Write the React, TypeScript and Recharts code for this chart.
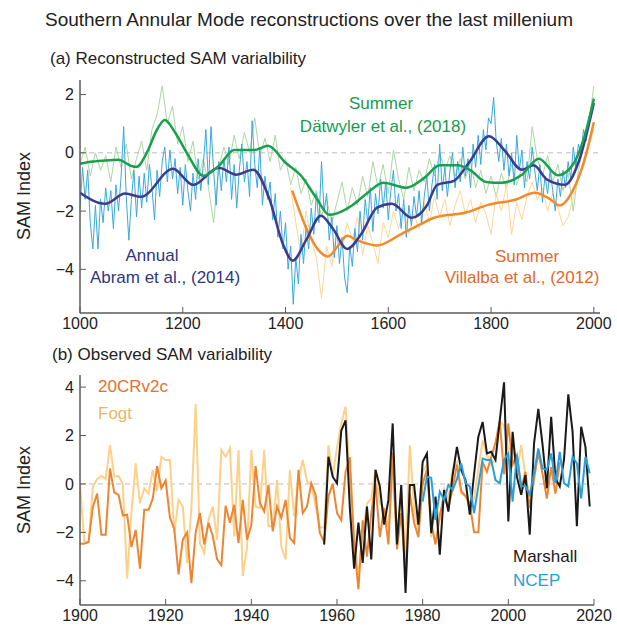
import { LineChart, Line, XAxis, YAxis, ReferenceLine } from 'recharts';

// ---- panel (a): reconstructions, 1000-2000 ----
const ABRAM_ANNUAL_START = 1000;
const ABRAM_ANNUAL_STEP = 5;
const abramAnnual = [
  -1.9, -0.5, -1.6, -0.6, -2.4, -3.3, -1.8, -3.3, -1.6, -2.4,
  -1.2, -2.0, -1.3, -2.6, -1.1, -2.0, -0.8, 0.9, -1.5, -3.0,
  -1.6, -0.6, -2.2, -0.8, -1.9, -0.7, -1.7, -0.4, -1.2, -2.3,
  -0.6, -1.5, -0.3, 0.2, -1.0, 0.1, -0.9, -0.2, -1.4, -0.5,
  -1.8, -0.4, -1.3, -2.0, -0.7, -1.6, -0.2, -1.3, -0.4, 0.8,
  -1.1, 0.9, -0.6, -1.8, -0.3, -1.3, -0.2, -1.0, 0.2, -1.6,
  -0.4, -1.9, -0.6, 0.3, -1.0, -0.3, -1.5, 1.1, -0.4, -1.2,
  0.2, -1.8, -0.8, -1.6, -1.0, -2.3, -1.4, -2.9, -2.0, -3.3,
  -2.4, -4.0, -3.2, -5.2, -3.6, -4.5, -2.8, -3.8, -2.5, -3.3,
  -1.9, -2.8, -1.4, -2.4, -0.3, -2.0, -1.4, -3.0, -2.2, -3.6,
  -2.5, -3.8, -2.9, -4.3, -4.8, -3.2, -3.9, -2.6, -3.4, -2.0,
  -3.0, -1.6, -2.4, -1.2, -2.7, -1.4, -2.1, -0.9, -1.9, -1.0,
  -2.3, -1.3, -0.6, -2.0, -1.4, -2.6, -1.6, -2.9, -1.8, -2.5,
  -1.5, -2.2, -1.3, -2.4, -1.5, -0.8, -2.0, -1.1, -0.4, -1.6,
  0.3, -1.3, -0.5, -1.5, -0.6, 0.0, -1.2, -0.3, -1.0, 0.2,
  -0.8, -0.2, -1.2, 0.3, -0.5, 0.6, -0.4, 0.8, 0.1, 1.2,
  1.0, 1.9, 0.4, -0.3, 0.5, -0.6, 0.3, -0.8, 0.0, -1.1,
  0.6, -0.6, 0.1, -1.2, -0.3, -0.9, 0.2, -0.6, -1.3, -0.4,
  -1.7, -0.8, -1.4, -0.6, -1.3, -2.0, -0.9, -1.5, -0.6, -1.2,
  -0.3, -0.9, 0.2, -0.5, 0.3, 0.0, 0.8, 0.4, 1.2, 1.5,
  1.9,
];

const DATWYLER_ANNUAL_START = 1000;
const DATWYLER_ANNUAL_STEP = 10;
const datwylerAnnual = [
  -0.4, 0.2, -0.8, 0.0, -0.6, -0.1, -1.0, 0.2, -0.5, 0.3,
  -0.9, -0.2, 0.4, -0.6, 0.8, 1.3, 2.3, 1.0, 1.6, 0.3,
  0.9, -0.3, 0.4, -0.9, -0.2, -1.2, -2.4, -0.5, 0.2, -0.4,
  0.6, -0.2, 0.7, 0.0, 1.2, -0.1, 0.5, -0.3, 0.6, -0.6,
  -0.2, -1.1, -0.5, -1.4, -0.9, -1.8, -1.3, -2.2, -1.6, -2.4,
  -1.7, -1.0, -2.0, -1.2, -1.8, -0.8, -1.5, -0.3, -1.2, -0.4,
  -1.4, 0.1, -0.9, -1.6, -0.5, -1.3, -0.6, -1.0, -0.2, -0.8,
  0.0, -0.6, -0.1, -0.8, -0.2, -0.9, -0.3, -1.2, -0.6, -1.4,
  -0.8, -1.5, -0.7, -1.2, -0.4, -1.1, -0.5, -1.0, 0.9, -0.2,
  -0.8, -0.1, -1.0, -0.4, -1.3, -0.7, -2.0, -0.6, 0.2, 1.0,
  2.3,
];

const VILLALBA_ANNUAL_START = 1410;
const VILLALBA_ANNUAL_STEP = 10;
const villalbaAnnual = [
  -1.2, -2.4, -3.5, -2.0, -3.0, -3.6, -5.0, -3.2, -3.9, -2.6,
  -3.3, -2.4, -3.0, -2.2, -3.5, -2.5, -3.1, -3.8, -2.4, -2.9,
  -2.0, -2.6, -1.9, -2.8, -2.1, -2.6, -1.7, -2.4, -1.5, -2.2,
  -1.6, -2.5, -1.8, -1.3, -2.1, -1.6, -2.4, -1.7, -2.1, -2.8,
  -1.4, -2.0, -1.1, -2.8, -1.7, -2.3, -1.5, -1.0, -1.6, -1.2,
  -2.0, -1.4, -1.9, -2.5, -2.2, -1.5, -0.9, -0.5, 0.2, 0.8,
];

// smoothed curves
const datwylerSmoothYears = [1000, 1025, 1050, 1075, 1100, 1110, 1130, 1150, 1165, 1185, 1210, 1240, 1270, 1300, 1340, 1366, 1400, 1430, 1460, 1485, 1500, 1530, 1560, 1590, 1635, 1670, 1700, 1735, 1760, 1790, 1820, 1860, 1893, 1930, 1955, 1980, 2000];
const datwylerSmooth = [-0.38, -0.3, -0.26, -0.24, -0.45, -0.48, 0.0, 0.8, 1.13, 0.7, -0.07, -0.79, -0.45, 0.1, 0.1, 0.24, -0.34, -0.78, -1.55, -2.13, -2.08, -1.8, -1.37, -1.03, -1.2, -0.86, -0.43, -0.43, -0.6, -1.0, -1.03, -0.75, -0.2, -0.77, -0.51, 0.45, 1.85];

const abramSmoothYears = [1000, 1049, 1088, 1119, 1181, 1220, 1270, 1304, 1337, 1368, 1395, 1414, 1440, 1469, 1492, 1520, 1547, 1578, 1607, 1646, 1675, 1695, 1728, 1757, 1796, 1827, 1860, 1883, 1909, 1944, 1971, 2000];
const abramSmooth = [-1.37, -1.75, -1.4, -1.51, -0.55, -1.1, -0.51, -0.75, -0.58, -1.55, -3.14, -3.7, -3.0, -2.16, -2.6, -3.3, -2.8, -1.88, -1.75, -2.23, -1.81, -1.1, -0.96, -0.34, 0.57, 0.07, -0.58, -0.43, -0.92, -1.1, -0.28, 1.71];

const villalbaSmoothYears = [1413, 1440, 1465, 1482, 1502, 1520, 1539, 1578, 1624, 1663, 1689, 1751, 1796, 1847, 1885, 1913, 1934, 1957, 1983, 2000];
const villalbaSmooth = [-1.3, -2.57, -3.36, -3.56, -3.2, -2.85, -3.0, -3.18, -2.8, -2.45, -2.23, -2.05, -1.78, -1.61, -1.37, -1.57, -1.81, -1.37, -0.17, 1.05];

const TOP_X_TICKS = [1000, 1200, 1400, 1600, 1800, 2000];
const TOP_Y_TICKS = [-4, -2, 0, 2];

// ---- panel (b): observations, 1900-2019 ----
const CR20_START = 1900;
const cr20 = [
  -2.47, -2.47, -2.4, -0.95, -0.4, -2.1, -2.1, 0.64, -0.35, -0.45,
  -1.3, -1.27, -2.6, -1.9, -3.5, -1.07, -1.07, -0.6, 0.74, -0.18,
  0.14, -1.4, -1.85, -3.74, -2.3, -2.0, -4.1, -2.0, -1.2, -2.5,
  -1.6, -2.16, -3.1, -3.35, -0.9, -1.6, -0.86, -2.44, -0.66, -2.3,
  -1.7, 0.74, -0.8, -1.13, -0.04, -1.96, -0.93, -1.4, -0.66, -2.23,
  -2.44, 0.58, -1.2, -0.93, 0.03, -0.45, -2.03, -2.4, -0.5, 0.0,
  -1.2, -1.5, 0.5, 1.1, -2.5, -4.35, -1.5, -3.0, -1.2, 0.0,
  -2.2, -1.0, -2.5, 1.3, -2.7, -1.2, -3.8, -0.4, -1.6, -2.2,
  0.0, 0.6, -1.6, -2.5, -1.3, -0.5, -1.0, -0.2, 0.8, -0.3,
  -0.5, -0.8, -2.0, -2.0, 0.9, 0.5, 1.1, 1.7, 2.6, 0.4,
  2.5, 0.8, 1.2, -0.2, 0.5, -1.0, 0.2, 1.3, 0.4, -0.6,
  0.7, -0.4, 0.9,
];

const FOGT_START = 1900;
const fogt = [
  0.0, -2.4, -2.4, -0.1, 0.2, 0.33, 0.2, 1.6, 0.3, 0.33,
  0.0, -3.9, -1.2, 0.85, -0.8, -0.18, -0.4, 0.58, -0.3, 1.12,
  0.99, 0.99, -2.03, -0.66, -0.93, -3.26, -1.0, 3.3, -2.44, -2.85,
  -1.48, -0.93, -2.3, 1.4, 1.12, 1.47, -2.16, 1.4, -3.8, -2.6,
  1.4, -0.93, -1.0, 1.4, -1.75, -1.75, 0.16, -2.6, -3.12, 0.58,
  -1.34, 0.16, 0.99, 0.1, -0.04, -0.93, -1.8, -1.8, 1.6, 0.3,
  1.5, 2.5, 3.2, 0.2, -2.2, -3.9, -2.0, -0.8, -0.6, 0.6,
  -0.8, -1.0, -1.8, 0.4, -2.2, -0.3, -3.0, 1.6, -1.0, -2.0,
  0.5, 0.8, -2.2, -0.8, -1.5, -0.2, -0.6, 0.6, 0.9, -0.4,
  -0.5, -1.0, -0.6, 0.6, 1.8, 1.2, 0.8, 1.0, 2.6, 2.4,
  1.4, 1.6, 0.5, 1.6, 0.3, -0.5,
];

const MARSHALL_START = 1957;
const marshall = [
  -2.5, 1.12, 0.3, 0.03, 2.2, 2.63, -1.0, -3.5, -1.6, -3.26,
  -0.93, -3.12, 0.58, -0.1, -1.68, -0.66, 2.5, -2.5, -0.04, -4.5,
  -0.04, -0.04, -1.68, 0.92, 1.26, -2.03, -0.52, -2.92, -0.25, -1.14,
  0.37, 1.53, 0.58, 0.16, -1.27, 0.4, 1.95, 2.56, 1.26, 1.33,
  0.99, 2.63, 4.2, -1.55, 2.15, 0.3, -0.45, 0.37, -2.1, 1.67,
  3.1, 1.6, -0.18, 2.77, 0.23, -0.1, 1.0, 3.7, 2.15, -1.75,
  2.36, 1.53, -0.93,
];

const NCEP_START = 1980;
const ncep = [
  -0.73, 0.3, 0.25, -1.48, -0.32, -0.66, -0.04, -0.25, 0.2, 0.85,
  0.03, -0.1, -1.2, -0.1, 1.05, 0.99, 0.99, 0.16, 0.03, 0.99,
  1.26, -0.73, 1.2, -0.1, -0.1, -0.45, 0.44, 1.47, 0.64, 0.58,
  1.26, 0.03, 1.32, 0.03, -0.1, 1.12, 0.85, -0.6, 1.12, 0.44,
];

const BOTTOM_X_TICKS = [1900, 1920, 1940, 1960, 1980, 2000, 2020];
const BOTTOM_Y_TICKS = [-4, -2, 0, 2, 4];

const FONT = '"Liberation Sans", Arial, Helvetica, sans-serif';
const AXIS = '#5a5a5a';
const TEXT = '#222';

const C = {
  blueThin: '#3aa8e0',
  greenThin: '#acd7a3',
  orangeThin: '#fdd796',
  green: '#19a04e',
  navy: '#3b3d8a',
  orange: '#f28a2c',
  cr20: '#ec8633',
  fogt: '#fdd189',
  marshall: '#1a1a1a',
  ncep: '#2aa0da',
};

function stepSeries(start: number, step: number, values: number[]) {
  return values.map((v, i) => ({ year: start + i * step, v }));
}
function pairSeries(years: number[], values: number[]) {
  return years.map((y, i) => ({ year: y, v: values[i] }));
}

const fmt = (v: number) => (v < 0 ? `\u2212${Math.abs(v)}` : `${v}`);

const tickStyle = { fontSize: 16, fill: TEXT, fontFamily: FONT };

function Label({ x, y, color, children, size = 17, anchor = 'left' }: any) {
  const style: any = {
    position: 'absolute',
    top: y,
    fontFamily: FONT,
    fontSize: size,
    color,
    whiteSpace: 'nowrap',
    lineHeight: 1,
  };
  if (anchor === 'center') {
    style.left = x;
    style.transform = 'translate(-50%, -50%)';
  } else {
    style.left = x;
    style.transform = 'translateY(-50%)';
  }
  return <div style={style}>{children}</div>;
}

function YTitle({ cy }: { cy: number }) {
  return (
    <div
      style={{
        position: 'absolute',
        left: 24,
        top: cy,
        transform: 'translate(-50%, -50%) rotate(-90deg)',
        fontFamily: FONT,
        fontSize: 18,
        color: TEXT,
        whiteSpace: 'nowrap',
        lineHeight: 1,
      }}
    >
      SAM Index
    </div>
  );
}

export default function App() {
  return (
    <div style={{ position: 'absolute', left: 0, top: 0, width: 617, height: 628, background: '#fff', overflow: 'hidden' }}>
      <div style={{ position: 'absolute', left: 0, top: 0 }}>
        <LineChart width={617} height={340} margin={{ top: 80, right: 17, bottom: 0, left: 0 }}>
          <XAxis
            type="number"
            dataKey="year"
            domain={[1000, 2012]}
            ticks={TOP_X_TICKS}
            allowDataOverflow
            height={27}
            tickSize={-6}
            tickMargin={11}
            axisLine={{ stroke: AXIS, strokeWidth: 1.5 }}
            tickLine={{ stroke: AXIS }}
            tick={tickStyle}
          />
          <YAxis
            type="number"
            domain={[-5.5, 2.5]}
            ticks={TOP_Y_TICKS}
            allowDataOverflow
            width={80}
            tickSize={-6}
            tickMargin={12}
            tickFormatter={fmt}
            axisLine={{ stroke: AXIS, strokeWidth: 1.5 }}
            tickLine={{ stroke: AXIS }}
            tick={tickStyle}
          />
          <ReferenceLine y={0} stroke="#bdbdbd" strokeDasharray="5 4" />
          <Line data={stepSeries(DATWYLER_ANNUAL_START, DATWYLER_ANNUAL_STEP, datwylerAnnual)} dataKey="v" stroke={C.greenThin} strokeWidth={1} dot={false} isAnimationActive={false} type="linear" />
          <Line data={stepSeries(VILLALBA_ANNUAL_START, VILLALBA_ANNUAL_STEP, villalbaAnnual)} dataKey="v" stroke={C.orangeThin} strokeWidth={1} dot={false} isAnimationActive={false} type="linear" />
          <Line data={stepSeries(ABRAM_ANNUAL_START, ABRAM_ANNUAL_STEP, abramAnnual)} dataKey="v" stroke={C.blueThin} strokeWidth={1} dot={false} isAnimationActive={false} type="linear" />
          <Line data={pairSeries(villalbaSmoothYears, villalbaSmooth)} dataKey="v" stroke={C.orange} strokeWidth={2.5} dot={false} isAnimationActive={false} type="monotone" />
          <Line data={pairSeries(abramSmoothYears, abramSmooth)} dataKey="v" stroke={C.navy} strokeWidth={2.5} dot={false} isAnimationActive={false} type="monotone" />
          <Line data={pairSeries(datwylerSmoothYears, datwylerSmooth)} dataKey="v" stroke={C.green} strokeWidth={2.5} dot={false} isAnimationActive={false} type="monotone" />
        </LineChart>
      </div>

      <div style={{ position: 'absolute', left: 0, top: 340 }}>
        <LineChart width={617} height={288} margin={{ top: 35, right: 23, bottom: 0, left: 0 }}>
          <XAxis
            type="number"
            dataKey="year"
            domain={[1900, 2020]}
            ticks={BOTTOM_X_TICKS}
            allowDataOverflow
            height={23}
            tickSize={-6}
            tickMargin={11}
            axisLine={{ stroke: AXIS, strokeWidth: 1.5 }}
            tickLine={{ stroke: AXIS }}
            tick={tickStyle}
          />
          <YAxis
            type="number"
            domain={[-5, 4.5]}
            ticks={BOTTOM_Y_TICKS}
            allowDataOverflow
            width={80}
            tickSize={-6}
            tickMargin={12}
            tickFormatter={fmt}
            axisLine={{ stroke: AXIS, strokeWidth: 1.5 }}
            tickLine={{ stroke: AXIS }}
            tick={tickStyle}
          />
          <ReferenceLine y={0} stroke="#bdbdbd" strokeDasharray="5 4" />
          <Line data={stepSeries(FOGT_START, 1, fogt)} dataKey="v" stroke={C.fogt} strokeWidth={2} dot={false} isAnimationActive={false} type="linear" />
          <Line data={stepSeries(CR20_START, 1, cr20)} dataKey="v" stroke={C.cr20} strokeWidth={2} dot={false} isAnimationActive={false} type="linear" />
          <Line data={stepSeries(MARSHALL_START, 1, marshall)} dataKey="v" stroke={C.marshall} strokeWidth={2} dot={false} isAnimationActive={false} type="linear" />
          <Line data={stepSeries(NCEP_START, 1, ncep)} dataKey="v" stroke={C.ncep} strokeWidth={2} dot={false} isAnimationActive={false} type="linear" />
        </LineChart>
      </div>

      <Label x={309} y={19} color={TEXT} size={19} anchor="center">
        Southern Annular Mode reconstructions over the last millenium
      </Label>
      <Label x={50} y={58} color={TEXT} size={17}>
        (a) Reconstructed SAM varialbility
      </Label>
      <Label x={52} y={354} color={TEXT} size={17}>
        (b) Observed SAM varialbility
      </Label>
      <YTitle cy={196} />
      <YTitle cy={490} />

      <Label x={381} y={103} color="#1b9a4e" anchor="center">Summer</Label>
      <Label x={383} y={126} color="#1b9a4e" anchor="center">Dätwyler et al., (2018)</Label>
      <Label x={152} y={255} color="#2f3680" anchor="center">Annual</Label>
      <Label x={165} y={277} color="#2f3680" anchor="center">Abram et al., (2014)</Label>
      <Label x={527} y={256} color="#e0692b" anchor="center">Summer</Label>
      <Label x={522} y={277} color="#e0692b" anchor="center">Villalba et al., (2012)</Label>

      <Label x={98} y={386} color="#e3702e">20CRv2c</Label>
      <Label x={98} y={413} color="#e9b765">Fogt</Label>
      <Label x={513} y={556} color="#1a1a1a">Marshall</Label>
      <Label x={513} y={580} color="#2aa0da">NCEP</Label>
    </div>
  );
}
